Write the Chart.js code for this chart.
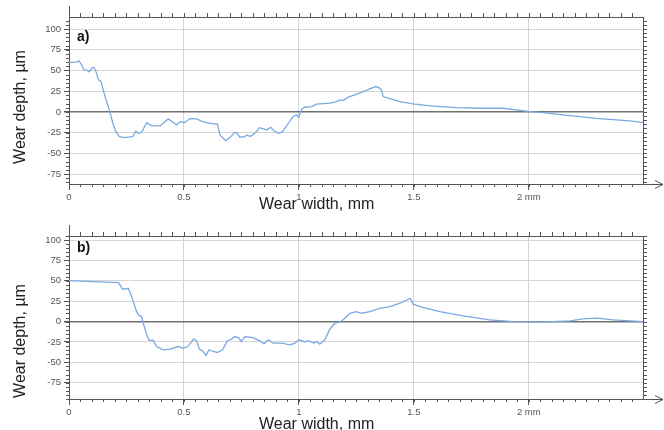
<!DOCTYPE html>
<html>
<head>
<meta charset="utf-8">
<script src="https://cdn.jsdelivr.net/npm/chart.js@4"></script>
<style>
  body { margin: 0; background: #fff; }
  canvas { display: block; }
</style>
</head>
<body>
<canvas id="chartA" width="664" height="215"></canvas>
<canvas id="chartB" width="664" height="215"></canvas>
<script>
// values (width in mm, depth in µm)
const aWidth = [0, 0.033, 0.043, 0.055, 0.065, 0.08, 0.088, 0.099, 0.109, 0.12, 0.128, 0.139, 0.149, 0.161, 0.171, 0.181, 0.193, 0.204, 0.219, 0.243, 0.277, 0.291, 0.301, 0.316, 0.338, 0.36, 0.396, 0.432, 0.468, 0.483, 0.504, 0.526, 0.555, 0.584, 0.627, 0.645, 0.657, 0.681, 0.7, 0.722, 0.732, 0.743, 0.765, 0.773, 0.79, 0.816, 0.828, 0.86, 0.877, 0.896, 0.914, 0.929, 0.954, 0.975, 0.99, 1.0, 1.012, 1.026, 1.055, 1.077, 1.106, 1.135, 1.164, 1.178, 1.193, 1.215, 1.243, 1.28, 1.316, 1.335, 1.352, 1.36, 1.367, 1.388, 1.44, 1.497, 1.57, 1.686, 1.787, 1.888, 1.946, 2.004, 2.062, 2.149, 2.294, 2.439, 2.497];
const aDepth = [59.6, 60, 61.7, 56.8, 50.8, 50, 48.4, 52.8, 53.6, 46.8, 38.7, 36.7, 26.6, 14.5, 6.4, -3.6, -15.7, -23.8, -29.8, -31, -29.8, -23, -25.8, -24.6, -12.9, -16.9, -16.9, -8.5, -15.7, -11.7, -12.9, -8.1, -8.5, -12.1, -14.5, -14.5, -27.8, -34.7, -31, -24.6, -25.8, -30.6, -29.8, -27.8, -29.8, -23.8, -19, -21.8, -18.5, -23.8, -25.8, -23.8, -13.7, -5.6, -3.6, -6.4, 3.2, 5.6, 6.4, 9.3, 10, 10.5, 12.5, 14.5, 13.7, 17.8, 20.6, 24.5, 28.7, 30.6, 28.7, 25.8, 18.5, 16.6, 12.5, 9.7, 7.3, 5.2, 4.4, 4.4, 2.4, 0.4, -0.8, -3.6, -7.7, -10.9, -12.9];

const bWidth = [0, 0.106, 0.214, 0.222, 0.232, 0.243, 0.258, 0.27, 0.28, 0.294, 0.306, 0.316, 0.323, 0.338, 0.349, 0.366, 0.381, 0.41, 0.439, 0.475, 0.494, 0.512, 0.529, 0.543, 0.555, 0.567, 0.584, 0.596, 0.609, 0.627, 0.645, 0.668, 0.688, 0.707, 0.722, 0.74, 0.749, 0.765, 0.801, 0.83, 0.848, 0.867, 0.888, 0.926, 0.96, 0.983, 1.0, 1.026, 1.041, 1.065, 1.077, 1.091, 1.113, 1.135, 1.157, 1.178, 1.2, 1.222, 1.251, 1.273, 1.309, 1.352, 1.396, 1.44, 1.469, 1.483, 1.49, 1.497, 1.527, 1.613, 1.715, 1.83, 1.932, 2.077, 2.18, 2.236, 2.294, 2.367, 2.497];
const bDepth = [50.2, 49, 47.7, 44.9, 40, 40, 40.8, 32.7, 24.5, 12.2, 7, 6.1, -2, -16.3, -23.3, -22.5, -30.6, -34.6, -33.8, -30.6, -32.6, -31.4, -26.5, -21.2, -23.7, -33.8, -36.7, -41.6, -34.6, -36.7, -37.9, -34.6, -23.7, -21.5, -18.4, -20.3, -24.5, -18.4, -19.6, -23.6, -27.3, -22.4, -26.4, -26.4, -28.5, -26.4, -22.4, -25, -23.5, -26.4, -24.5, -27.7, -22.4, -9, -2, -0.7, 4.1, 10.2, 12.2, 10.2, 12.2, 16.3, 18.4, 22.5, 26.5, 28.6, 26.5, 21.3, 18.4, 12.2, 7, 2.1, 0, -0.4, 0.9, 3.3, 4.2, 2.1, 0];

const yTicks = [-75, -50, -25, 0, 25, 50, 75, 100];
const xTicks = [0, 0.5, 1, 1.5, 2];
const xTickLabels = ["0", "0.5", "1", "1.5", "2 mm"];
const xTitle = "Wear width, mm";
const yTitle = "Wear depth, µm";

const frame = {
  id: "frame",
  afterDraw(chart, args, opts) {
    const { ctx, chartArea: a, scales: { x, y } } = chart;
    const w = chart.width;
    ctx.save();
    ctx.strokeStyle = "#555";
    ctx.lineWidth = 1;
    ctx.beginPath();
    // top and right border, left axis extension
    ctx.moveTo(a.left, Math.round(a.top) + 0.5);
    ctx.lineTo(a.right, Math.round(a.top) + 0.5);
    ctx.moveTo(Math.round(a.right) + 0.5, a.top);
    ctx.lineTo(Math.round(a.right) + 0.5, a.bottom);
    ctx.moveTo(Math.round(a.left) + 0.5, a.top - 11);
    ctx.lineTo(Math.round(a.left) + 0.5, a.top);
    // minor ticks
    for (let v = 0; v <= x.max + 1e-9; v += 0.05) {
      const px = Math.round(x.getPixelForValue(v)) + 0.5;
      ctx.moveTo(px, a.top);
      ctx.lineTo(px, a.top - 4);
      ctx.moveTo(px, a.bottom);
      ctx.lineTo(px, a.bottom + 3);
    }
    for (let v = Math.ceil(y.min / 5) * 5; v <= y.max; v += 5) {
      const py = Math.round(y.getPixelForValue(v)) + 0.5;
      ctx.moveTo(a.left, py);
      ctx.lineTo(a.left - 3, py);
      ctx.moveTo(a.right, py);
      ctx.lineTo(a.right + 4, py);
    }
    // arrow on the width axis
    const by = Math.round(a.bottom) + 0.5;
    ctx.moveTo(a.right, by);
    ctx.lineTo(w - 1, by);
    ctx.moveTo(w - 9, by - 4);
    ctx.lineTo(w - 1, by);
    ctx.lineTo(w - 9, by + 4);
    ctx.stroke();

    ctx.fillStyle = "#222";
    ctx.font = '16px "Liberation Sans", Arial, sans-serif';
    ctx.textBaseline = "middle";
    ctx.textAlign = "left";
    ctx.fillText(xTitle, 259, opts.xTitleY);
    ctx.translate(21, opts.yTitleY);
    ctx.rotate(-Math.PI / 2);
    ctx.textAlign = "center";
    ctx.fillText(yTitle, 0, 0);
    ctx.setTransform(1, 0, 0, 1, 0, 0);
    ctx.font = 'bold 14px "Liberation Sans", Arial, sans-serif';
    ctx.fillStyle = "#111";
    ctx.textAlign = "left";
    ctx.fillText(opts.label, 77, opts.labelY);
    ctx.restore();
  }
};

function makePanel(id, xs, ys, yMin, yMax, top, label, labelY, xTitleY, yTitleY) {
  const tickFont = { family: '"Liberation Sans", Arial, sans-serif', size: 9.5 };
  new Chart(document.getElementById(id), {
    type: "line",
    data: {
      datasets: [{
        data: xs.map((v, i) => ({ x: v, y: ys[i] })),
        borderColor: "#7aa8e3",
        borderWidth: 1.3,
        pointRadius: 0,
        tension: 0
      }]
    },
    options: {
      responsive: false,
      animation: false,
      layout: { padding: { top: top, right: 21, left: 0, bottom: 0 } },
      plugins: {
        legend: { display: false },
        tooltip: { enabled: false },
        frame: { label: label, labelY: labelY, xTitleY: xTitleY, yTitleY: yTitleY }
      },
      scales: {
        x: {
          type: "linear",
          min: 0,
          max: 2.497,
          afterBuildTicks: (s) => { s.ticks = xTicks.map(v => ({ value: v })); },
          afterFit: (s) => { s.height = 31; },
          ticks: {
            autoSkip: false,
            maxRotation: 0,
            padding: 2,
            color: "#555",
            font: tickFont,
            callback: (v, i) => xTickLabels[i]
          },
          grid: { color: "#d4d4d4", tickColor: "#555", tickLength: 6 },
          border: { color: "#555" }
        },
        y: {
          min: yMin,
          max: yMax,
          afterBuildTicks: (s) => { s.ticks = yTicks.map(v => ({ value: v })); },
          afterFit: (s) => { s.width = 69; },
          ticks: { padding: 3, color: "#555", font: tickFont },
          grid: {
            color: (c) => c.tick && c.tick.value === 0 ? "#707070" : "#d6d6d6",
            lineWidth: (c) => c.tick && c.tick.value === 0 ? 1.5 : 1,
            tickColor: "#555",
            tickLength: 5
          },
          border: { color: "#555" }
        }
      }
    },
    plugins: [frame]
  });
}

makePanel("chartA", aWidth, aDepth, -87, 114.5, 17, "a)", 37.5, 205, 107);
makePanel("chartB", bWidth, bDepth, -95, 105, 21, "b)", 33, 210, 126);
</script>
</body>
</html>
